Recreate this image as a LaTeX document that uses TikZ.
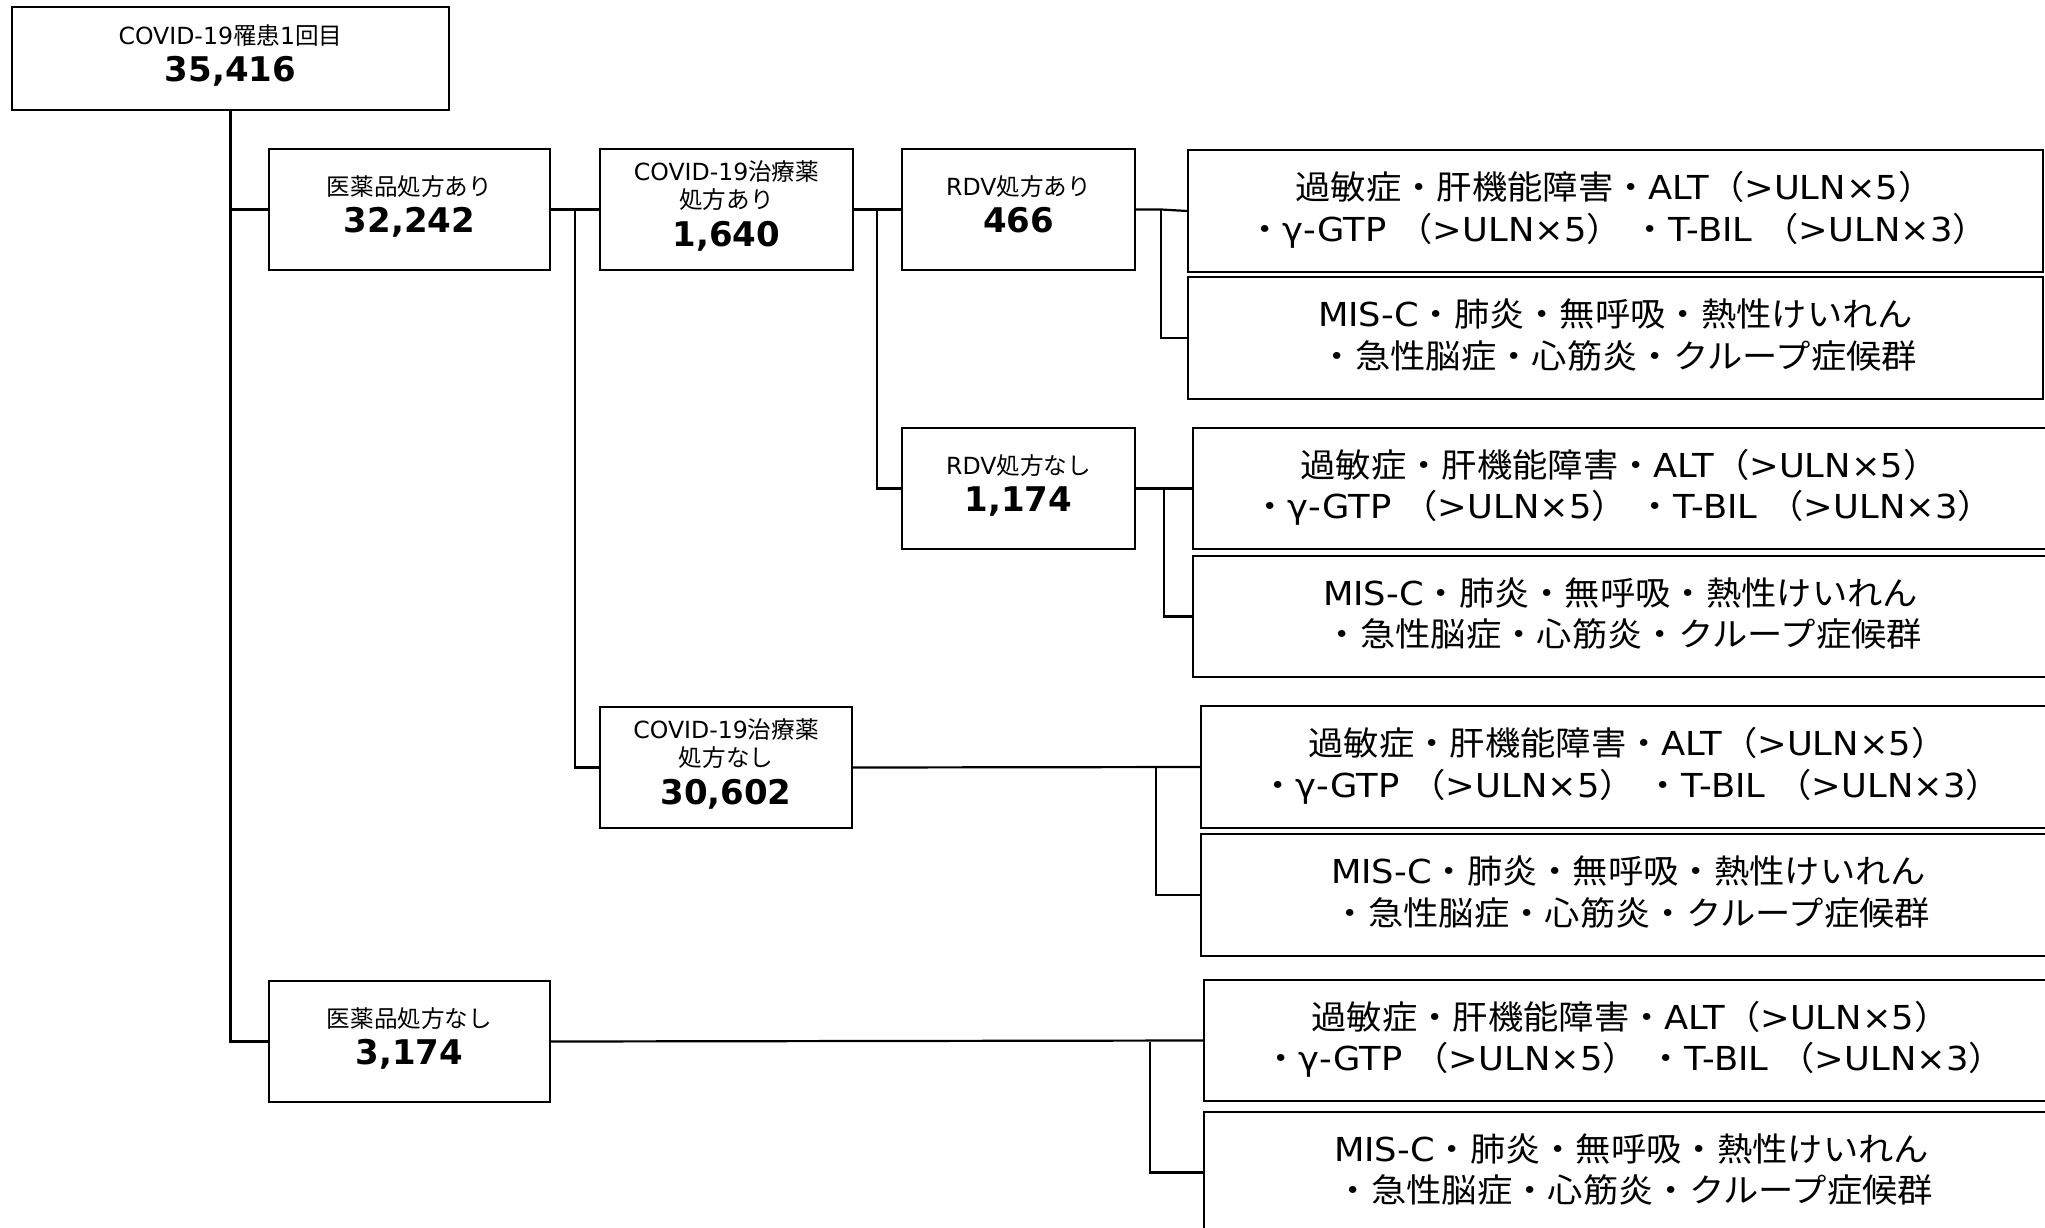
\documentclass[tikz,border=0pt]{standalone}
\usepackage{fontspec}
\setmainfont{DejaVu Sans}
\newfontfamily\jp{Noto Sans CJK JP}
\newfontfamily\jpw[FakeStretch=1.07]{Noto Sans CJK JP}
\newfontfamily\lw[FakeStretch=1.07]{DejaVu Sans}
\newcommand\J[1]{{\jp #1}}
\newcommand\JW[1]{{\jpw #1}}
\usetikzlibrary{calc}
\tikzset{
  box/.style={draw=black, line width=1.6pt, inner sep=0pt, minimum width=#1},
  rootbox/.style={draw=black, line width=2.4pt, inner sep=0pt, minimum width=437pt, minimum height=103pt},
  conn/.style={draw=black, line width=2.2pt},
  small/.style={anchor=base, inner sep=0pt, font=\fontsize{23.6}{27}\selectfont},
  num/.style={anchor=base, inner sep=0pt, font=\fontsize{34}{40}\selectfont\bfseries},
  big/.style={anchor=base, inner sep=0pt, font=\fontsize{33}{40}\lw\selectfont}
}
\newcommand\LA{\JW{過敏症・肝機能障害・}ALT\JW{（}>ULN×5\JW{）}}
\newcommand\LB{\JW{・}γ-GTP \JW{（}>ULN×5\JW{）} \JW{・}T-BIL \JW{（}>ULN×3\JW{）}}
\newcommand\LC{MIS-C\JW{・肺炎・無呼吸・熱性けいれん}}
\newcommand\LD{\JW{・急性脳症・心筋炎・クループ症候群}}
\begin{document}
\begin{tikzpicture}[x=1pt,y=-1pt]
\useasboundingbox (0,0) rectangle (2045,1228);
\clip (0,0) rectangle (2045,1228);
\fill[white] (0,0) rectangle (2045,1228);
% boxes
\node[rootbox] (root) at (230.5,58.5) {};
\node[box=281pt, minimum height=121pt] (m1) at (409.5,209.5) {};
\node[box=281pt, minimum height=121pt] (m2) at (409.5,1041.5) {};
\node[box=253pt, minimum height=121pt] (c1) at (726.5,209.5) {};
\node[box=252pt, minimum height=121pt] (c2) at (726,767.5) {};
\node[box=233pt, minimum height=121pt] (r1) at (1018.5,209.5) {};
\node[box=233pt, minimum height=121pt] (r2) at (1018.5,488.5) {};
\node[box=855pt, minimum height=122pt] (a1) at (1615.5,211) {};
\node[box=855pt, minimum height=122pt] (b1) at (1615.5,338) {};
\node[box=855pt, minimum height=121pt] (a2) at (1620.5,488.5) {};
\node[box=855pt, minimum height=121pt] (b2) at (1620.5,616.5) {};
\node[box=855pt, minimum height=122pt] (a3) at (1628.5,767) {};
\node[box=855pt, minimum height=122pt] (b3) at (1628.5,895) {};
\node[box=855pt, minimum height=121pt] (a4) at (1631.5,1040.5) {};
\node[box=855pt, minimum height=121pt] (b4) at (1631.5,1172.5) {};
% junctions
\coordinate (k1) at (575,209.5);
\coordinate (k2) at (877,209.5);
\coordinate (j1) at (1161,209.5);
\coordinate (j2) at (1164,488.5);
\coordinate (j3) at (1156,767.5);
\coordinate (j4) at (1150,1041.5);
% connectors
\draw[conn] (root.south) -- (root.south |- m2.west) -- (m2.west);
\draw[conn] (root.south |- m1.west) -- (m1.west);
\draw[conn] (m1.east) -- (c1.west);
\draw[conn] (k1) |- (c2.west);
\draw[conn] (c1.east) -- (r1.west);
\draw[conn] (k2) |- (r2.west);
\draw[conn] (r1.east) -- (j1) -- (a1.west);
\draw[conn] (j1) |- (b1.west);
\draw[conn] (r2.east) -- (a2.west);
\draw[conn] (j2) |- (b2.west);
\draw[conn] (c2.east) -- (a3.west);
\draw[conn] (j3) |- (b3.west);
\draw[conn] (m2.east) -- (a4.west);
\draw[conn] (j4) |- (b4.west);
% small box texts
\node[small] (troot) at (230.5,44.5) {COVID-19\J{罹患}1\J{回目}};
\node[num] (nroot) at (230.5,81.5) {35,416};
\node[small] (tm1) at (409.5,195.5) {\J{医薬品処方あり}};
\node[num] (nm1) at (409.5,232.5) {32,242};
\node[small] (tm2) at (409.5,1027.5) {\J{医薬品処方なし}};
\node[num] (nm2) at (409.5,1064.5) {3,174};
\node[small] (tc1a) at (726.5,180) {COVID-19\J{治療薬}};
\node[small] (tc1b) at (726.5,208) {\J{処方あり}};
\node[num] (nc1) at (726.5,246.5) {1,640};
\node[small] (tc2a) at (726,738) {COVID-19\J{治療薬}};
\node[small] (tc2b) at (726,766) {\J{処方なし}};
\node[num] (nc2) at (726,804.5) {30,602};
\node[small] (tr1) at (1018.5,195.5) {RDV\J{処方あり}};
\node[num] (nr1) at (1018.5,232.5) {466};
\node[small] (tr2) at (1018.5,474.5) {RDV\J{処方なし}};
\node[num] (nr2) at (1018.5,511.5) {1,174};
% big box texts
\node[big] (ta1a) at ($(a1.center)+(-1,-11.5)$) {\LA};
\node[big] (ta1b) at ($(a1.center)+(2,30)$) {\LB};
\node[big] (tb1a) at ($(b1.center)+(0,-11.5)$) {\LC};
\node[big] (tb1b) at ($(b1.center)+(3,30)$) {\LD};
\node[big] (ta2a) at ($(a2.center)+(-1,-11.5)$) {\LA};
\node[big] (ta2b) at ($(a2.center)+(2,30)$) {\LB};
\node[big] (tb2a) at ($(b2.center)+(0,-11.5)$) {\LC};
\node[big] (tb2b) at ($(b2.center)+(3,30)$) {\LD};
\node[big] (ta3a) at ($(a3.center)+(-1,-11.5)$) {\LA};
\node[big] (ta3b) at ($(a3.center)+(2,30)$) {\LB};
\node[big] (tb3a) at ($(b3.center)+(0,-11.5)$) {\LC};
\node[big] (tb3b) at ($(b3.center)+(3,30)$) {\LD};
\node[big] (ta4a) at ($(a4.center)+(-1,-11.5)$) {\LA};
\node[big] (ta4b) at ($(a4.center)+(2,30)$) {\LB};
\node[big] (tb4a) at ($(b4.center)+(0,-11.5)$) {\LC};
\node[big] (tb4b) at ($(b4.center)+(3,30)$) {\LD};
\end{tikzpicture}
\end{document}
